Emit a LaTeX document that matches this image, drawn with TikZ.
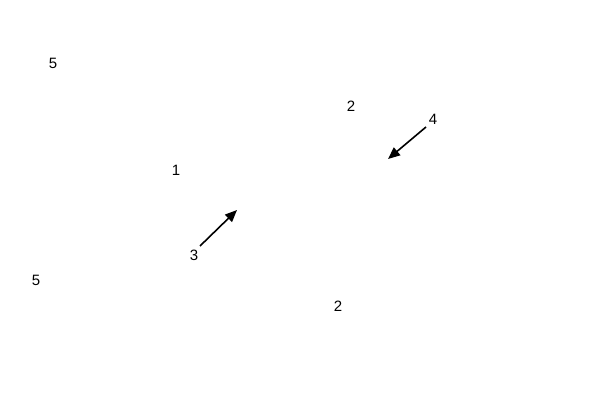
\documentclass[tikz,border=0pt]{standalone}
\usepackage{fontspec}
\setmainfont{Liberation Sans}
\usetikzlibrary{arrows.meta}
\begin{document}
\begin{tikzpicture}[x=1pt,y=-1pt,
  lbl/.style={font=\fontsize{15}{15}\selectfont,inner sep=0pt},
  arr/.style={line width=1.6pt,-{Triangle[length=12pt,width=10pt]}}]
\useasboundingbox (0,0) rectangle (600,420);
\node[lbl] (n5a) at (53,63) {5};
\node[lbl] (n2a) at (351,106) {2};
\node[lbl] (n4) at (433,119) {4};
\node[lbl] (n1) at (176,170) {1};
\node[lbl] (n3) at (194,255) {3};
\node[lbl] (n5b) at (36,280) {5};
\node[lbl] (n2b) at (338,306) {2};
\coordinate (s3) at (200,246);
\coordinate (e3) at (237,210);
\coordinate (s4) at (426,127);
\coordinate (e4) at (388,159);
\draw[arr] (s3) -- (e3);
\draw[arr] (s4) -- (e4);
\end{tikzpicture}
\end{document}
